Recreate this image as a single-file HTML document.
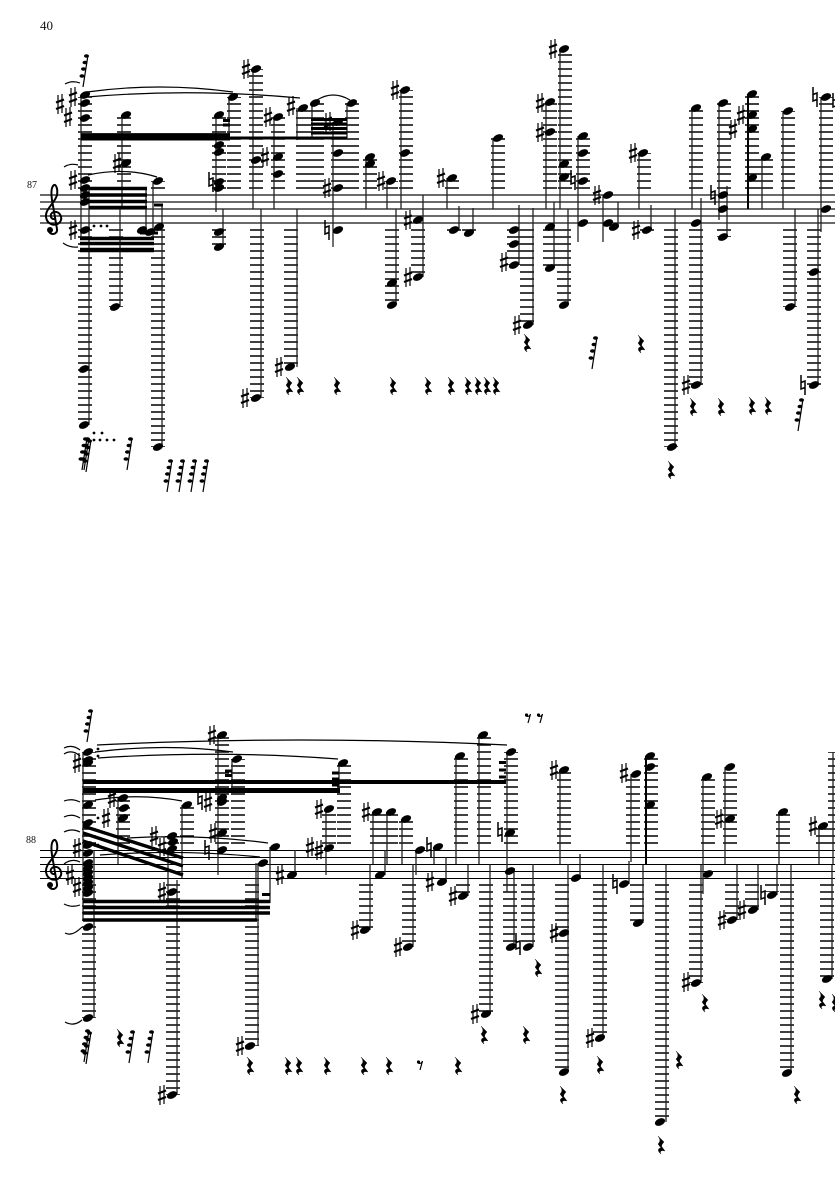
<!DOCTYPE html>
<html><head><meta charset="utf-8"><style>
html,body{margin:0;padding:0;background:#fff}
svg{display:block}
text{font-family:"Liberation Serif",serif;fill:#111}
.st{stroke:#111;stroke-width:1.2;fill:none}
.st2{stroke:#000;stroke-width:1;fill:none}
.sm{stroke:#222;stroke-width:1.3;fill:none}
.lg{stroke:#000;stroke-width:14;stroke-dasharray:1.6 5.4;fill:none}
.b{stroke:#000;fill:none}
.t{stroke:#000;stroke-width:1.2;fill:none}
</style></head><body>
<svg width="835" height="1181" viewBox="0 0 835 1181" xmlns="http://www.w3.org/2000/svg">
<defs>
<ellipse id="n" rx="5.4" ry="3.4" transform="rotate(-25)" fill="#000"/>
<path id="s" d="M-2-9V10M2-10V9" stroke="#000" stroke-width="1.2" fill="none"/>
<path id="s2" d="M-4-1.5L4-4.5M-4 5L4 2" stroke="#000" stroke-width="2.2" fill="none"/>
<g id="S"><use href="#s"/><use href="#s2"/></g>
<path id="N" d="M-2-10V4L2 2.5M2 10V-4L-2-2.5" stroke="#000" stroke-width="1.5" fill="none"/>
<path id="r" d="M-3-9L3-3C1-1 0 1 1 2L4 6C1 5-2 6 0 9C-4 6-3 3 0 3L-3-1C-1-3 0-5-3-9Z" fill="#000" stroke="#000" stroke-width=".4"/>
<g id="g"><path d="M5 0L0 32" stroke="#000" stroke-width="1.2"/><ellipse cx="3.5" cy="1" rx="2.5" ry="1.8"/><ellipse cx="2" cy="7.5" rx="2.5" ry="1.8"/><ellipse cx=".5" cy="14" rx="2.5" ry="1.8"/><ellipse cx="-1" cy="21" rx="2.5" ry="1.8"/></g>
<g id="e"><circle cx="-1.5" cy="-3" r="1.6"/><path d="M-2-2C0-1 2-2 2.5-4L0 5" stroke="#000" stroke-width="1.2" fill="none"/></g>
<g id="c"><path d="M55 219C50 220 49 213 54 212C60 211 63 218 60 222C56 227 47 225 46 217C45 209 55 203 57 195C58 189 56 184 54 185C51 187 51 193 52 200L57 229C58 235 49 236 49 230" stroke="#000" stroke-width="2" fill="none"/><circle cx="50" cy="230" r="3"/></g>
</defs>
<rect width="835" height="1181" fill="#fff"/>
<text x="40" y="30" font-size="13">40</text>
<text x="27" y="188" font-size="10">87</text>
<text x="26" y="843" font-size="10">88</text>

<!-- staves -->
<path class="st" d="M40 195H835M40 202H835M40 209H835M40 216H835M40 223H835"/>
<path class="st2" d="M40 850.5H835M40 857.5H835M40 864.5H835M40 871.5H835M40 878.5H835"/>
<use href="#c"/><use href="#c" y="655"/>

<!-- ledger lines -->
<path class="lg" d="M85 188.8V97M124 188.8V115M158 188.8V181M219 188.8V115M234 188.8V97M256 188.8V69M278 188.8V117M303 188.8V108M317 188.8V103M352 188.8V103M338 188.8V122M370 188.8V157M391 188.8V181M406 188.8V90M452 188.8V178M498 188.8V138M550 188.8V102M565 188.8V49M583 188.8V136M644 188.8V153M696 188.8V108M724 188.8V103M752 188.8V94M766 188.8V157M788 188.8V111M826 188.8V97"/>
<path class="lg" d="M85 229.2V425M116 229.2V307M158 229.2V447M219 229.2V247M257 229.2V398M291 229.2V367M392 229.2V305M418 229.2V277M454 229.2V231M469 229.2V233M514 229.2V265M527 229.2V325M550 229.2V268M564 229.2V305M647 229.2V231M671 229.2V447M696 229.2V385M724 229.2V237M790 229.2V307M814 229.2V385"/>
<path class="lg" d="M89 843.8V752M123 843.8V798M187 843.8V805M172 843.8V836M222 843.8V735M238 843.8V759M329 843.8V809M344 843.8V763M377 843.8V812M391 843.8V812M406 843.8V819M461 843.8V756M484 843.8V735M511 843.8V752M564 843.8V770M633 843.8V775M651 843.8V756M708 843.8V777M730 843.8V767M783 843.8V812M823 843.8V826M835 843.8V752"/>
<path class="lg" d="M89 884.2V1018M173 884.2V1095M252 884.2V1046M366 884.2V930M409 884.2V947M463 884.2V896M486 884.2V1014M510 884.2V947M528 884.2V947M562 884.2V1072M600 884.2V1038M637 884.2V923M662 884.2V1122M696 884.2V983M732 884.2V920M752 884.2V910M772 884.2V892M787 884.2V1073M827 884.2V979"/>

<!-- stems -->
<path class="sm" d="M81 95V240M89 187V425M122 115V208M120 208V307M146 187V228M153 181V238M162 205V447M216 115V212M223 209V247M229 97V140M253 69V209M261 209V398M274 117V209M297 108V140M297 209V367M312 103V138M347 103V138M333 122V247M366 157V209M387 181V209M401 90V209M396 209V305M423 195V277M447 178V209M459 206V230M473 208V233M493 138V209M519 205V265M533 208V325M546 102V209M560 49V209M554 202V268M568 209V305M578 136V242M603 195V242M618 202V227M639 153V209M651 205V230M675 209V447M692 108V209M701 198V385M719 103V220M727 186V237M748 94V209M762 157V209M783 111V209M795 209V307M821 97V232M818 209V385"/>
<path class="sm" d="M83 752V921M94 850V1018M118 798V864M168 850V908M177 880V1095M182 805V878M218 735V875M232 759V790M270 847V903M258 863V1046M256 863V921M295 850V875M339 763V791M326 809V875M373 812V864M387 812V864M402 819V864M385 850V875M370 864V930M416 850V875M434 847V864M446 857V882M413 864V947M468 865V896M456 756V864M479 735V864M490 864V1014M507 752V892M514 868V947M533 864V947M560 770V864M568 864V1072M580 854V876M603 865V1038M629 861V884M631 774V862M643 865V923M646 756V864M666 865V1122M703 777V894M701 865V983M725 767V864M737 865V920M758 865V910M777 865V895M791 865V1073M779 812V864M819 826V864M832 865V979M833 752V864"/>
<path stroke="#000" stroke-width="2" fill="none" d="M646 756V864M748 94V209"/>

<!-- beams -->
<path class="b" stroke-width="2.8" d="M81 134.5H230"/>
<path class="b" stroke-width="5" d="M81 138H230"/>
<path class="b" stroke-width="3" d="M230 138H347"/>
<path class="b" stroke-width="3.6" d="M89 188.5H147M89 195H147M89 201.5H147M89 207.5H147M80 238.5H154M80 243.5H154"/>
<path class="b" stroke-width="4.5" d="M80 250H154"/>
<path class="b" stroke-width="3" d="M223 120.5H230M223 125H230M154 205H163M140 233H158M311 119.5H347M311 124H347M311 128.5H347M311 133H347"/>
<path class="b" stroke-width="4" d="M83 782H506"/>
<path class="b" stroke-width="5" d="M83 790.5H340"/>
<path class="b" stroke-width="3.4" d="M83 901.5H270M83 907.5H270M83 913H270M83 920H257"/>
<path class="b" stroke-width="3" d="M262 894.5H270M225 771H232M225 775.5H232M332 773H339M332 779H339M332 785H339M499 762.5H506M499 770H506M499 777H506"/>
<path class="b" stroke-width="3.4" d="M83 826L183 858M83 833L183 866M83 841L183 875"/>

<!-- ties -->
<path class="t" d="M65 84Q72 80 80 83M87 92Q160 82 233 92M87 97Q190 88 300 98M317 100Q333 90 350 100M64 167Q70 163 78 165M88 175Q125 167 157 177M63 243Q70 248 78 247"/>
<path class="t" d="M64 748Q72 744 80 750M64 754Q72 749 80 756M64 801Q72 798 80 802M64 817Q72 813 80 818M64 832Q72 828 80 832M64 864Q72 858 80 862M64 904Q72 908 80 905M65 933Q72 937 82 927M65 1022Q74 1027 82 1020"/>
<path class="t" d="M95 800Q140 793 182 801M97 745Q300 735 507 745M95 752Q165 743 233 752M98 758Q220 750 338 759M100 855Q180 849 260 857M127 838Q200 834 268 843"/>

<!-- note heads staff 1 -->
<g>
<use href="#n" x="85" y="95"/><use href="#n" x="85" y="103"/><use href="#n" x="85" y="118"/><use href="#n" x="85" y="180"/><use href="#n" x="85" y="188"/><use href="#n" x="85" y="195"/><use href="#n" x="85" y="202"/><use href="#n" x="85" y="230"/><use href="#n" x="84" y="369"/><use href="#n" x="84" y="425"/>
<use href="#n" x="126" y="115"/><use href="#n" x="126" y="163"/><use href="#n" x="115" y="307"/><use href="#n" x="158" y="181"/><use href="#n" x="159" y="227"/><use href="#n" x="142" y="230"/><use href="#n" x="150" y="232"/><use href="#n" x="158" y="447"/>
<use href="#n" x="219" y="115"/><use href="#n" x="219" y="145"/><use href="#n" x="219" y="152"/><use href="#n" x="219" y="182"/><use href="#n" x="219" y="188"/><use href="#n" x="219" y="232"/><use href="#n" x="219" y="247"/><use href="#n" x="233" y="97"/>
<use href="#n" x="256" y="69"/><use href="#n" x="256" y="160"/><use href="#n" x="256" y="398"/><use href="#n" x="278" y="117"/><use href="#n" x="278" y="157"/><use href="#n" x="278" y="174"/><use href="#n" x="290" y="367"/><use href="#n" x="303" y="108"/><use href="#n" x="315" y="103"/><use href="#n" x="352" y="103"/>
<use href="#n" x="338" y="122"/><use href="#n" x="338" y="153"/><use href="#n" x="338" y="188"/><use href="#n" x="338" y="230"/><use href="#n" x="370" y="157"/><use href="#n" x="370" y="164"/><use href="#n" x="391" y="181"/><use href="#n" x="405" y="90"/><use href="#n" x="405" y="153"/><use href="#n" x="392" y="283"/><use href="#n" x="392" y="305"/><use href="#n" x="418" y="220"/><use href="#n" x="418" y="277"/>
<use href="#n" x="452" y="178"/><use href="#n" x="454" y="230"/><use href="#n" x="469" y="233"/><use href="#n" x="498" y="138"/><use href="#n" x="514" y="230"/><use href="#n" x="514" y="244"/><use href="#n" x="514" y="265"/><use href="#n" x="528" y="325"/>
<use href="#n" x="550" y="102"/><use href="#n" x="550" y="132"/><use href="#n" x="564" y="49"/><use href="#n" x="564" y="164"/><use href="#n" x="564" y="177"/><use href="#n" x="550" y="227"/><use href="#n" x="550" y="268"/><use href="#n" x="564" y="305"/>
<use href="#n" x="583" y="136"/><use href="#n" x="583" y="153"/><use href="#n" x="583" y="181"/><use href="#n" x="583" y="223"/><use href="#n" x="608" y="195"/><use href="#n" x="608" y="223"/><use href="#n" x="614" y="227"/><use href="#n" x="643" y="153"/><use href="#n" x="647" y="230"/><use href="#n" x="672" y="447"/>
<use href="#n" x="696" y="108"/><use href="#n" x="696" y="223"/><use href="#n" x="696" y="385"/><use href="#n" x="723" y="103"/><use href="#n" x="723" y="195"/><use href="#n" x="723" y="209"/><use href="#n" x="723" y="237"/><use href="#n" x="752" y="94"/><use href="#n" x="752" y="115"/><use href="#n" x="752" y="129"/><use href="#n" x="752" y="178"/><use href="#n" x="766" y="157"/><use href="#n" x="788" y="111"/><use href="#n" x="790" y="307"/><use href="#n" x="826" y="97"/><use href="#n" x="826" y="209"/><use href="#n" x="814" y="272"/><use href="#n" x="814" y="385"/>
</g>
<!-- accidentals staff 1 -->
<g>
<use href="#S" x="73" y="97"/><use href="#S" x="60" y="104"/><use href="#S" x="68" y="117"/><use href="#S" x="73" y="180"/><use href="#S" x="73" y="230"/><use href="#S" x="117" y="163"/><use href="#N" x="211" y="182"/><use href="#S" x="246" y="69"/><use href="#S" x="245" y="398"/><use href="#S" x="268" y="117"/><use href="#S" x="265" y="157"/><use href="#S" x="279" y="367"/><use href="#S" x="291" y="106"/><use href="#S" x="328" y="122"/><use href="#S" x="327" y="188"/><use href="#N" x="327" y="230"/><use href="#S" x="381" y="181"/><use href="#S" x="395" y="90"/><use href="#S" x="408" y="220"/><use href="#S" x="408" y="277"/><use href="#S" x="441" y="178"/><use href="#S" x="504" y="262"/><use href="#S" x="517" y="325"/><use href="#S" x="540" y="103"/><use href="#S" x="540" y="132"/><use href="#S" x="553" y="49"/><use href="#N" x="573" y="180"/><use href="#S" x="597" y="195"/><use href="#S" x="633" y="153"/><use href="#S" x="636" y="230"/><use href="#S" x="686" y="385"/><use href="#N" x="713" y="195"/><use href="#S" x="741" y="115"/><use href="#S" x="733" y="129"/><use href="#N" x="815" y="97"/><use href="#N" x="835" y="103"/><use href="#N" x="803" y="385"/>
</g>
<!-- note heads staff 2 -->
<g>
<use href="#n" x="88" y="752"/><use href="#n" x="88" y="760"/><use href="#n" x="88" y="763"/><use href="#n" x="88" y="805"/><use href="#n" x="88" y="823"/><use href="#n" x="88" y="845"/><use href="#n" x="88" y="853"/><use href="#n" x="88" y="863"/><use href="#n" x="88" y="868"/><use href="#n" x="88" y="873"/><use href="#n" x="88" y="878"/><use href="#n" x="88" y="883"/><use href="#n" x="88" y="888"/><use href="#n" x="88" y="893"/><use href="#n" x="88" y="927"/><use href="#n" x="88" y="1018"/>
<use href="#n" x="187" y="805"/><use href="#n" x="123" y="798"/><use href="#n" x="124" y="808"/><use href="#n" x="123" y="818"/><use href="#n" x="172" y="836"/><use href="#n" x="173" y="842"/><use href="#n" x="172" y="849"/><use href="#n" x="172" y="892"/><use href="#n" x="172" y="1095"/>
<use href="#n" x="222" y="735"/><use href="#n" x="222" y="798"/><use href="#n" x="222" y="802"/><use href="#n" x="222" y="833"/><use href="#n" x="222" y="850"/><use href="#n" x="237" y="759"/><use href="#n" x="275" y="847"/><use href="#n" x="263" y="863"/><use href="#n" x="250" y="1046"/><use href="#n" x="292" y="875"/>
<use href="#n" x="343" y="763"/><use href="#n" x="329" y="809"/><use href="#n" x="329" y="848"/><use href="#n" x="377" y="812"/><use href="#n" x="391" y="812"/><use href="#n" x="406" y="819"/><use href="#n" x="380" y="875"/><use href="#n" x="365" y="930"/><use href="#n" x="420" y="850"/><use href="#n" x="438" y="847"/><use href="#n" x="442" y="882"/><use href="#n" x="408" y="947"/><use href="#n" x="463" y="896"/><use href="#n" x="460" y="756"/><use href="#n" x="483" y="735"/><use href="#n" x="486" y="1014"/>
<use href="#n" x="511" y="752"/><use href="#n" x="510" y="833"/><use href="#n" x="510" y="871"/><use href="#n" x="511" y="947"/><use href="#n" x="528" y="947"/><use href="#n" x="564" y="770"/><use href="#n" x="576" y="878"/><use href="#n" x="564" y="933"/><use href="#n" x="564" y="1072"/><use href="#n" x="600" y="1038"/><use href="#n" x="624" y="884"/><use href="#n" x="636" y="774"/><use href="#n" x="638" y="923"/><use href="#n" x="650" y="756"/><use href="#n" x="650" y="767"/><use href="#n" x="650" y="805"/><use href="#n" x="660" y="1122"/>
<use href="#n" x="707" y="777"/><use href="#n" x="708" y="874"/><use href="#n" x="696" y="983"/><use href="#n" x="730" y="767"/><use href="#n" x="730" y="819"/><use href="#n" x="732" y="920"/><use href="#n" x="753" y="910"/><use href="#n" x="772" y="895"/><use href="#n" x="783" y="812"/><use href="#n" x="787" y="1073"/><use href="#n" x="823" y="826"/><use href="#n" x="827" y="979"/>
</g>
<!-- accidentals staff 2 -->
<g>
<use href="#S" x="77" y="763"/><use href="#S" x="77" y="848"/><use href="#S" x="70" y="875"/><use href="#S" x="77" y="887"/><use href="#S" x="112" y="798"/><use href="#S" x="106" y="818"/><use href="#S" x="154" y="836"/><use href="#S" x="162" y="847"/><use href="#S" x="162" y="892"/><use href="#S" x="162" y="1095"/><use href="#S" x="212" y="735"/><use href="#S" x="208" y="802"/><use href="#N" x="200" y="800"/><use href="#S" x="213" y="833"/><use href="#N" x="207" y="850"/><use href="#S" x="280" y="875"/><use href="#S" x="240" y="1046"/><use href="#S" x="319" y="809"/><use href="#S" x="310" y="847"/><use href="#S" x="319" y="850"/><use href="#S" x="366" y="812"/><use href="#S" x="355" y="930"/><use href="#N" x="429" y="847"/><use href="#S" x="430" y="882"/><use href="#S" x="398" y="947"/><use href="#S" x="453" y="896"/><use href="#S" x="475" y="1014"/><use href="#N" x="500" y="832"/><use href="#N" x="518" y="945"/><use href="#S" x="554" y="770"/><use href="#S" x="554" y="933"/><use href="#S" x="590" y="1038"/><use href="#N" x="615" y="884"/><use href="#S" x="624" y="773"/><use href="#S" x="686" y="982"/><use href="#S" x="719" y="819"/><use href="#S" x="722" y="920"/><use href="#S" x="742" y="910"/><use href="#N" x="763" y="895"/><use href="#S" x="813" y="826"/>
</g>
<!-- staccato dots -->
<g>
<circle cx="94" cy="226" r="1.4"/><circle cx="101" cy="226" r="1.4"/><circle cx="107" cy="226" r="1.4"/><circle cx="94" cy="433" r="1.4"/><circle cx="102" cy="433" r="1.4"/><circle cx="94" cy="440" r="1.4"/><circle cx="100" cy="440" r="1.4"/><circle cx="107" cy="440" r="1.4"/><circle cx="114" cy="440" r="1.4"/><circle cx="98" cy="749" r="1.4"/><circle cx="98" cy="756" r="1.4"/><circle cx="98" cy="818" r="1.4"/><circle cx="98" cy="845" r="1.4"/>
</g>
<!-- grace groups -->
<g>
<use href="#g" x="83" y="55"/><use href="#g" x="82" y="438"/><use href="#g" x="84" y="438"/><use href="#g" x="86" y="440"/><use href="#g" x="127" y="438"/><use href="#g" x="167" y="460"/><use href="#g" x="179" y="460"/><use href="#g" x="191" y="460"/><use href="#g" x="203" y="460"/><use href="#g" x="592" y="337"/><use href="#g" x="798" y="399"/><use href="#g" x="87" y="710"/><use href="#g" x="84" y="1030"/><use href="#g" x="86" y="1032"/><use href="#g" x="129" y="1031"/><use href="#g" x="148" y="1031"/>
</g>
<!-- rests -->
<g>
<use href="#r" x="527" y="343"/><use href="#r" x="641" y="344"/><use href="#r" x="693" y="407"/><use href="#r" x="721" y="407"/><use href="#r" x="752" y="406"/><use href="#r" x="768" y="406"/><use href="#r" x="671" y="470"/><use href="#r" x="289" y="386"/><use href="#r" x="300" y="386"/><use href="#r" x="337" y="386"/><use href="#r" x="393" y="386"/><use href="#r" x="428" y="386"/><use href="#r" x="451" y="386"/><use href="#r" x="468" y="386"/><use href="#r" x="478" y="386"/><use href="#r" x="487" y="386"/><use href="#r" x="496" y="386"/>
<use href="#r" x="120" y="1038"/><use href="#r" x="250" y="1066"/><use href="#r" x="288" y="1066"/><use href="#r" x="299" y="1066"/><use href="#r" x="327" y="1066"/><use href="#r" x="364" y="1066"/><use href="#r" x="389" y="1066"/><use href="#r" x="458" y="1066"/><use href="#r" x="484" y="1035"/><use href="#r" x="526" y="1035"/><use href="#r" x="538" y="968"/><use href="#r" x="563" y="1095"/><use href="#r" x="600" y="1065"/><use href="#r" x="705" y="1003"/><use href="#r" x="661" y="1145"/><use href="#r" x="679" y="1060"/><use href="#r" x="797" y="1095"/><use href="#r" x="822" y="1000"/><use href="#r" x="835" y="1003"/>
<use href="#e" x="528" y="718"/><use href="#e" x="540" y="718"/><use href="#e" x="420" y="1065"/>
</g>
</svg>
</body></html>
